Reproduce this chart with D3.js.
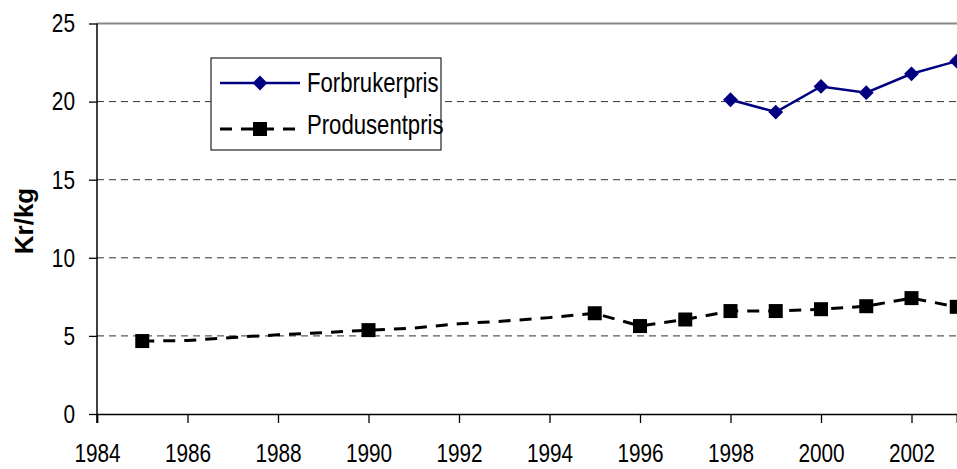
<!DOCTYPE html>
<html><head><meta charset="utf-8">
<script src="https://cdn.jsdelivr.net/npm/d3@7/dist/d3.min.js"></script>
<style>
html,body{margin:0;padding:0;background:#fff;}
svg{display:block;}
.narrow{font-family:"Liberation Sans",Arial,sans-serif;}
</style></head><body>
<svg id="chart" width="957" height="469"></svg>
<script>
const produsentYears = [1985,1986,1987,1988,1989,1990,1991,1992,1993,1994,1995,1996,1997,1998,1999,2000,2001,2002,2003];
const produsentValues = [4.67,4.7,4.9,5.07,5.2,5.37,5.5,5.78,5.95,6.17,6.45,5.63,6.05,6.59,6.59,6.71,6.9,7.42,6.86];
const produsentMarkerYears = [1985,1990,1995,1996,1997,1998,1999,2000,2001,2002,2003];
const forbrukerYears = [1998,1999,2000,2001,2002,2003];
const forbrukerValues = [20.12,19.33,20.97,20.57,21.78,22.59];
const xTicks = [1984,1986,1988,1990,1992,1994,1996,1998,2000,2002];
const yTicks = [0,5,10,15,20,25];
const seriesNames = ["Forbrukerpris","Produsentpris"];

(function(){
const svg = d3.select("#chart");
const pL = 97, pR = 956.75, pT = 23.5, pB = 414;
const sx = 0.8;
const x = d3.scaleLinear().domain([1984,2003]).range([pL,pR]);
const y = d3.scaleLinear().domain([0,25]).range([pB,pT]);

// gridlines
svg.append("g").selectAll("line").data(yTicks.filter(d=>d>0&&d<25)).join("line")
  .attr("x1",pL).attr("x2",pR).attr("y1",d=>y(d)).attr("y2",d=>y(d))
  .attr("stroke","#333").attr("stroke-width",1).attr("stroke-dasharray","7,5");
// top border
svg.append("line").attr("x1",pL).attr("x2",957).attr("y1",y(25)).attr("y2",y(25))
  .attr("stroke","#888").attr("stroke-width",2);

// axes
const yAxis = svg.append("g").attr("transform",`translate(${pL},0)`)
  .call(d3.axisLeft(y).tickValues(yTicks).tickSize(8).tickPadding(14).tickFormat(d3.format("d")));
const xAxis = svg.append("g").attr("transform",`translate(0,${pB})`)
  .call(d3.axisBottom(x).tickValues(xTicks).tickSize(9).tickPadding(20).tickFormat(d3.format("d")));
[yAxis,xAxis].forEach(a=>{
  a.select(".domain").attr("stroke","#000").attr("stroke-width",1.5);
  a.selectAll(".tick line").attr("stroke","#000").attr("stroke-width",1.3);
  a.selectAll("text").attr("class","narrow").attr("font-size",26).attr("fill","#000");
});
yAxis.select(".domain").attr("d",`M0,${pB+9}V${pT}`);
yAxis.selectAll("text").attr("x",-22/sx).attr("transform",`scale(${sx},1)`);
xAxis.selectAll("text").attr("dy","0.71em").attr("y",30).attr("transform",`scale(${sx},1)`);

// y title
svg.append("text").attr("transform","translate(33,221) rotate(-90)")
  .attr("text-anchor","middle").attr("font-family","'Liberation Sans',Arial,sans-serif")
  .attr("font-weight","bold").attr("font-size",26).text("Kr/kg");

// produsent line
const prodData = produsentYears.map((yr,i)=>({yr,v:produsentValues[i]}));
const line = d3.line().x(d=>x(d.yr)).y(d=>y(d.v));
svg.append("path").datum(prodData).attr("d",line).attr("fill","none")
  .attr("stroke","#000").attr("stroke-width",3).attr("stroke-dasharray","12,9");
svg.append("g").selectAll("rect").data(prodData.filter(d=>produsentMarkerYears.includes(d.yr))).join("rect")
  .attr("x",d=>x(d.yr)-7).attr("y",d=>y(d.v)-7).attr("width",14).attr("height",14).attr("fill","#000");

// forbruker line
const forData = forbrukerYears.map((yr,i)=>({yr,v:forbrukerValues[i]}));
svg.append("path").datum(forData).attr("d",line).attr("fill","none")
  .attr("stroke","#000080").attr("stroke-width",2.5);
const diamond = d3.symbol().type(d3.symbolSquare).size(110);
svg.append("g").selectAll("path").data(forData).join("path")
  .attr("transform",d=>`translate(${x(d.yr)},${y(d.v)}) rotate(45)`)
  .attr("d",diamond()).attr("fill","#000080");

// legend
const lg = svg.append("g");
lg.append("rect").attr("x",211).attr("y",58).attr("width",230).attr("height",92)
  .attr("fill","#fff").attr("stroke","#333").attr("stroke-width",1.3);
lg.append("line").attr("x1",220).attr("x2",300).attr("y1",83).attr("y2",83)
  .attr("stroke","#000080").attr("stroke-width",2.5);
lg.append("path").attr("transform","translate(260,83) rotate(45)").attr("d",diamond()).attr("fill","#000080");
lg.append("line").attr("x1",220).attr("x2",300).attr("y1",129).attr("y2",129)
  .attr("stroke","#000").attr("stroke-width",3).attr("stroke-dasharray","12,9");
lg.append("rect").attr("x",253).attr("y",122).attr("width",14).attr("height",14).attr("fill","#000");
lg.selectAll("text.lt").data(seriesNames).join("text").attr("class","narrow lt")
  .attr("transform",(d,i)=>`translate(307,${i===0?92:134}) scale(0.82,1)`)
  .attr("font-size",27).text(d=>d);
})();
</script></body></html>
